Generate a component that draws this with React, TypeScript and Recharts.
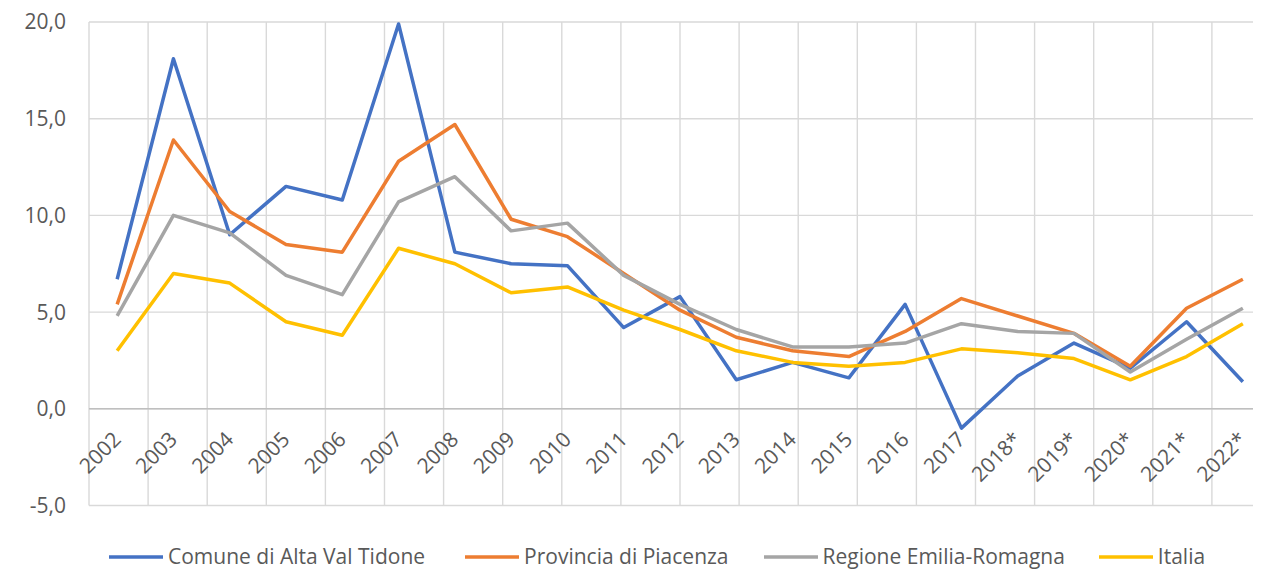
import { ComposedChart, Line, XAxis, YAxis, CartesianGrid, Legend, ReferenceLine } from 'recharts';

const categories = ['2002', '2003', '2004', '2005', '2006', '2007', '2008', '2009', '2010', '2011', '2012', '2013', '2014', '2015', '2016', '2017', '2018*', '2019*', '2020*', '2021*', '2022*'];
const comune = [6.7, 18.1, 9.0, 11.5, 10.8, 19.9, 8.1, 7.5, 7.4, 4.2, 5.8, 1.5, 2.4, 1.6, 5.4, -1.0, 1.7, 3.4, 2.1, 4.5, 1.4];
const provincia = [5.4, 13.9, 10.2, 8.5, 8.1, 12.8, 14.7, 9.8, 8.9, 7.0, 5.1, 3.7, 3.0, 2.7, 4.0, 5.7, 4.8, 3.9, 2.2, 5.2, 6.7];
const regione = [4.8, 10.0, 9.1, 6.9, 5.9, 10.7, 12.0, 9.2, 9.6, 6.9, 5.4, 4.1, 3.2, 3.2, 3.4, 4.4, 4.0, 3.9, 1.9, 3.6, 5.2];
const italia = [3.0, 7.0, 6.5, 4.5, 3.8, 8.3, 7.5, 6.0, 6.3, 5.1, 4.1, 3.0, 2.4, 2.2, 2.4, 3.1, 2.9, 2.6, 1.5, 2.7, 4.4];
const yTicks = [-5, 0, 5, 10, 15, 20];
const boundaryTicks = categories.map((_, i) => i).concat(categories.length);

const series = [
  { key: 'comune', name: 'Comune di Alta Val Tidone', color: '#4472C4', gap: 40 },
  { key: 'provincia', name: 'Provincia di Piacenza', color: '#ED7D31', gap: 35 },
  { key: 'regione', name: 'Regione Emilia-Romagna', color: '#A5A5A5', gap: 34 },
  { key: 'italia', name: 'Italia', color: '#FFC000', gap: 0 },
];

const data = categories.map((year, i) => ({
  year,
  comune: comune[i],
  provincia: provincia[i],
  regione: regione[i],
  italia: italia[i],
}));

const FONT = '"Open Sans", sans-serif';
const TEXT = '#595959';
const TOP = 22;
const BOTTOM = 79.5;
const H = 585;
const PLOT_H = H - TOP - BOTTOM;
const LEGEND_H = 60;
const X_AXIS_H = 1;

// x labels sit just under the 0 line, like Excel does
function YearTick({ x, y, payload }: any) {
  const zeroY = y - (PLOT_H * 5) / 25;
  const ax = x + 5;
  const ay = zeroY + 32;
  return (
    <text x={ax} y={ay} textAnchor="end" transform={`rotate(-45 ${ax} ${ay})`} fill={TEXT} fontSize={21} fontFamily={FONT}>
      {payload.value}
    </text>
  );
}

function LegendRow() {
  return (
    <div style={{ height: LEGEND_H, paddingTop: 40, paddingLeft: 109, boxSizing: 'border-box', display: 'flex', alignItems: 'center' }}>
      {series.map((s) => (
        <div key={s.key} style={{ display: 'flex', alignItems: 'center', marginRight: s.gap, height: 23 }}>
          <svg width={54} height={6} style={{ marginRight: 5 }}>
            <line x1={0} y1={3} x2={54} y2={3} stroke={s.color} strokeWidth={3.5} />
          </svg>
          <span style={{ fontFamily: FONT, fontSize: 21, color: TEXT, lineHeight: '23px', whiteSpace: 'nowrap' }}>{s.name}</span>
        </div>
      ))}
    </div>
  );
}

export default function App() {
  return (
    <div style={{ position: 'relative', width: 1261, height: H, overflow: 'hidden', margin: -8, background: '#fff' }}>
      <div style={{ position: 'absolute', left: 6, top: 0, width: 1.5, height: H, background: '#D9D9D9' }} />
      <ComposedChart width={1290} height={H} data={data} margin={{ top: TOP, right: 19, left: 0, bottom: BOTTOM - LEGEND_H - X_AXIS_H }}>
        <CartesianGrid xAxisId="grid" stroke="#D9D9D9" strokeWidth={1.4} />
        <XAxis
          dataKey="year"
          scale="band"
          height={X_AXIS_H}
          axisLine={false}
          tickLine={false}
          tickSize={0}
          tickMargin={0}
          interval={0}
          tick={(props: any) => <YearTick {...props} />}
        />
        <XAxis xAxisId="grid" type="number" domain={[0, categories.length]} ticks={boundaryTicks} hide />
        <YAxis
          width={89}
          domain={[-5, 20]}
          ticks={yTicks}
          axisLine={false}
          tickLine={false}
          tickSize={0}
          tickMargin={23}
          tick={{ fill: TEXT, fontSize: 21, fontFamily: FONT }}
          tickFormatter={(v: number) => v.toFixed(1).replace('.', ',')}
        />
        <ReferenceLine y={0} stroke="#BFBFBF" strokeWidth={1.5} />
        <Legend verticalAlign="bottom" wrapperStyle={{ left: 0, width: 1261 }} content={<LegendRow />} />
        {series.map((s) => (
          <Line
            key={s.key}
            type="linear"
            dataKey={s.key}
            name={s.name}
            stroke={s.color}
            strokeWidth={3.5}
            strokeLinejoin="round"
            dot={false}
            activeDot={false}
            isAnimationActive={false}
          />
        ))}
      </ComposedChart>
    </div>
  );
}
